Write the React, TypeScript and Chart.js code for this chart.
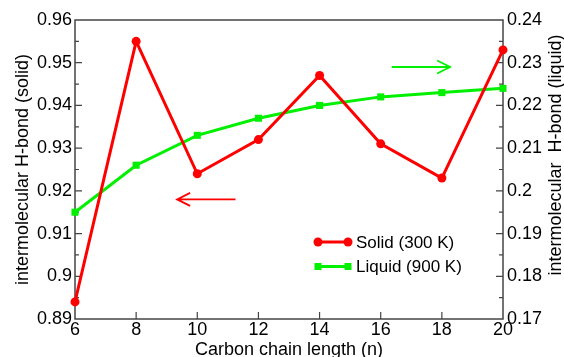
import React, { useEffect, useRef } from "react";
import { Chart, registerables } from "chart.js";

Chart.register(...registerables);

// ---- data ----
const chainLength = [6, 8, 10, 12, 14, 16, 18, 20];
const solid300K = [0.894, 0.955, 0.924, 0.932, 0.947, 0.931, 0.923, 0.953];
const liquid900K = [0.195, 0.206, 0.213, 0.217, 0.22, 0.222, 0.223, 0.224];
const leftRange = [0.89, 0.96];
const rightRange = [0.17, 0.24];
const xRange = [6, 20];
// arrows indicating which axis each series belongs to (data coordinates)
const solidArrowX = [9.34, 11.25];
const solidArrowY = 0.918;
const liquidArrowX = [16.36, 18.27];
const liquidArrowY = 0.229;

const seriesNames = ["Solid (300 K)", "Liquid (900 K)"];
const axisTitles = ["Carbon chain length (n)", "intermolecular H-bond (solid)", "intermolecular  H-bond (liquid)"];

const RED = "#ff0000";
const GREEN = "#00f000";
const AXIS = "#444444";
const FONT = "'Liberation Sans', Arial, sans-serif";

const fmt = (v: number) => String(parseFloat(Number(v).toFixed(3)));

const decor = {
  id: "decor",
  beforeDatasetsDraw(chart: any) {
    const { ctx, chartArea: a, scales } = chart;
    ctx.save();
    ctx.strokeStyle = AXIS;
    ctx.lineWidth = 1.5;
    ctx.strokeRect(a.left, a.top, a.right - a.left, a.bottom - a.top);
    ctx.lineWidth = 1.2;
    ctx.beginPath();
    const n = Math.round((leftRange[1] - leftRange[0]) / 0.005);
    for (let i = 1; i < n; i++) {
      const len = i % 2 === 0 ? 7 : 4;
      const pl = scales.yL.getPixelForValue(leftRange[0] + i * 0.005);
      ctx.moveTo(a.left, pl);
      ctx.lineTo(a.left + len, pl);
      const pr = scales.yR.getPixelForValue(rightRange[0] + i * 0.005);
      ctx.moveTo(a.right, pr);
      ctx.lineTo(a.right - len, pr);
    }
    for (let v = xRange[0] + 2; v < xRange[1]; v += 2) {
      const px = scales.x.getPixelForValue(v);
      ctx.moveTo(px, a.bottom);
      ctx.lineTo(px, a.bottom - 7);
    }
    ctx.stroke();
    ctx.restore();
  },
  afterDatasetsDraw(chart: any) {
    const { ctx, chartArea: a, scales } = chart;
    ctx.save();
    // arrows
    const arrow = (x1: number, x2: number, y: number, color: string, headLeft: boolean) => {
      ctx.strokeStyle = color;
      ctx.lineWidth = 1.8;
      ctx.beginPath();
      ctx.moveTo(x1, y);
      ctx.lineTo(x2, y);
      const tip = headLeft ? x1 : x2;
      const d = headLeft ? 13 : -13;
      ctx.moveTo(tip + d, y - 6.5);
      ctx.lineTo(tip, y);
      ctx.lineTo(tip + d, y + 6.5);
      ctx.stroke();
    };
    arrow(
      scales.x.getPixelForValue(solidArrowX[0]),
      scales.x.getPixelForValue(solidArrowX[1]),
      scales.yL.getPixelForValue(solidArrowY),
      RED,
      true
    );
    arrow(
      scales.x.getPixelForValue(liquidArrowX[0]),
      scales.x.getPixelForValue(liquidArrowX[1]),
      scales.yR.getPixelForValue(liquidArrowY),
      GREEN,
      false
    );

    // legend
    const lx = a.right - 185;
    const rows = [
      { y: a.bottom - 77, color: RED, circle: true, text: seriesNames[0] },
      { y: a.bottom - 52.5, color: GREEN, circle: false, text: seriesNames[1] },
    ];
    ctx.font = `17px ${FONT}`;
    ctx.textBaseline = "middle";
    ctx.textAlign = "left";
    for (const r of rows) {
      ctx.strokeStyle = r.color;
      ctx.fillStyle = r.color;
      ctx.lineWidth = 3;
      ctx.beginPath();
      ctx.moveTo(lx, r.y);
      ctx.lineTo(lx + 30, r.y);
      ctx.stroke();
      for (const px of [lx, lx + 30]) {
        ctx.beginPath();
        if (r.circle) ctx.arc(px, r.y, 4.5, 0, Math.PI * 2);
        else ctx.rect(px - 3.5, r.y - 3.5, 7, 7);
        ctx.fill();
      }
      ctx.fillStyle = "#000";
      ctx.fillText(r.text, lx + 38, r.y + 1);
    }

    // axis titles
    ctx.fillStyle = "#000";
    ctx.font = `18px ${FONT}`;
    ctx.textAlign = "center";
    ctx.textBaseline = "alphabetic";
    ctx.fillText(axisTitles[0], (a.left + a.right) / 2, 355);
    ctx.textBaseline = "middle";
    ctx.save();
    ctx.translate(23, (a.top + a.bottom) / 2);
    ctx.rotate(-Math.PI / 2);
    ctx.fillText(axisTitles[1], 0, 0);
    ctx.restore();
    ctx.save();
    ctx.translate(556, 155);
    ctx.rotate(-Math.PI / 2);
    ctx.fillText(axisTitles[2], 0, 0);
    ctx.restore();
    ctx.restore();
  },
};

export default function App() {
  const ref = useRef<HTMLCanvasElement | null>(null);
  useEffect(() => {
    if (!ref.current) return;
    const tickFont = { family: FONT, size: 18 };
    const chart = new Chart(ref.current, {
      type: "line",
      data: {
        datasets: [
          {
            label: seriesNames[0],
            data: chainLength.map((x, i) => ({ x, y: solid300K[i] })),
            yAxisID: "yL",
            borderColor: RED,
            backgroundColor: RED,
            borderWidth: 3,
            pointRadius: 4.5,
            pointStyle: "circle",
            pointBorderWidth: 0,
            tension: 0,
            clip: false as any,
          },
          {
            label: seriesNames[1],
            data: chainLength.map((x, i) => ({ x, y: liquid900K[i] })),
            yAxisID: "yR",
            borderColor: GREEN,
            backgroundColor: GREEN,
            borderWidth: 3,
            pointRadius: 5,
            pointStyle: "rect",
            pointBorderWidth: 0,
            tension: 0,
            clip: false as any,
          },
        ],
      },
      options: {
        animation: false,
        responsive: false,
        devicePixelRatio: 1,
        layout: { padding: { top: 20, left: 0, right: 0, bottom: 0 }, autoPadding: false } as any,
        plugins: { legend: { display: false }, tooltip: { enabled: false } },
        scales: {
          x: {
            type: "linear",
            min: xRange[0],
            max: xRange[1],
            ticks: {
              stepSize: 2,
              color: "#000",
              font: tickFont,
              padding: 0,
              maxRotation: 0,
              autoSkip: false,
              callback: (v: any) => fmt(v),
            },
            grid: { display: false, drawTicks: false },
            border: { display: false },
            afterFit: (s: any) => {
              s.height = 38;
            },
          },
          yL: {
            type: "linear",
            position: "left",
            min: leftRange[0],
            max: leftRange[1],
            ticks: {
              stepSize: 0.01,
              color: "#000",
              font: tickFont,
              padding: 3,
              autoSkip: false,
              callback: (v: any) => fmt(v),
            },
            grid: { display: false, drawTicks: false },
            border: { display: false },
            afterFit: (s: any) => {
              s.width = 75;
            },
          },
          yR: {
            type: "linear",
            position: "right",
            min: rightRange[0],
            max: rightRange[1],
            ticks: {
              stepSize: 0.01,
              color: "#000",
              font: tickFont,
              padding: 4,
              autoSkip: false,
              callback: (v: any) => fmt(v),
            },
            grid: { display: false, drawTicks: false },
            border: { display: false },
            afterFit: (s: any) => {
              s.width = 61;
            },
          },
        },
      } as any,
      plugins: [decor],
    });
    return () => chart.destroy();
  }, []);
  return (
    <div style={{ position: "absolute", left: 0, top: 0, width: 564, height: 357, background: "#fff" }}>
      <canvas ref={ref} width={564} height={357} style={{ width: 564, height: 357, display: "block" }} />
    </div>
  );
}
